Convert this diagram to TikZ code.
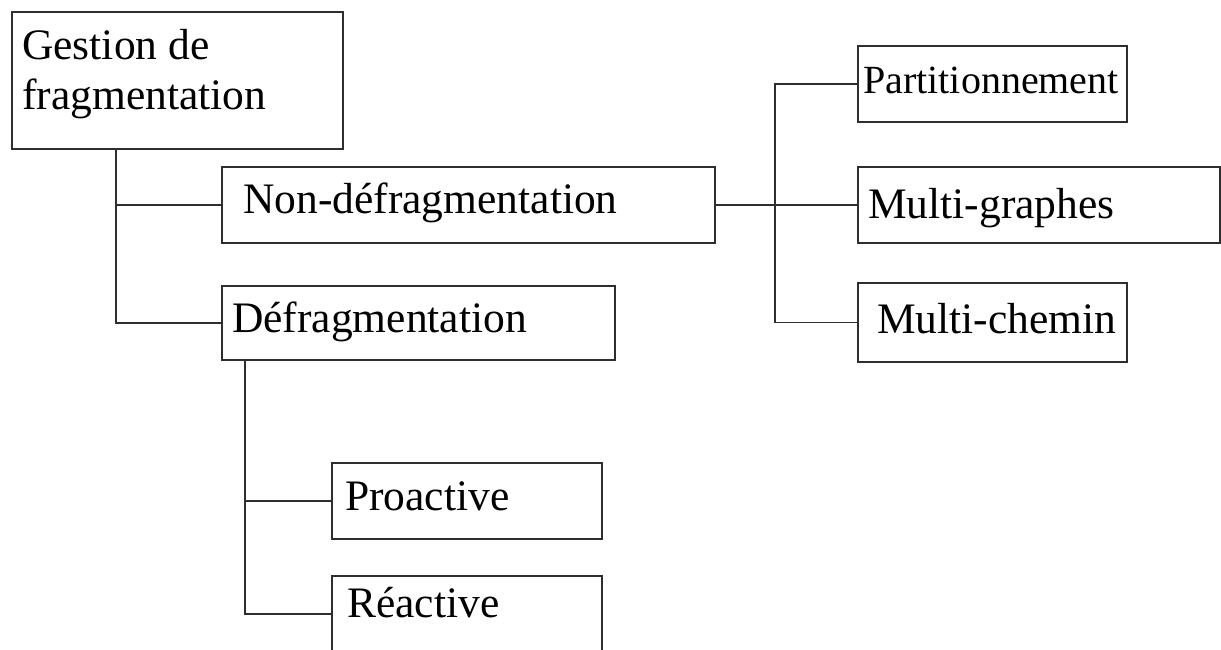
\documentclass[tikz,border=0pt]{standalone}
\usepackage{fontspec}
\setmainfont{Liberation Serif}
\begin{document}
\begin{tikzpicture}[x=1pt,y=-1pt,
  box/.style={draw=black!82, line width=1.8pt, rectangle, inner sep=0pt, outer sep=0pt, anchor=north west},
  lbl/.style={anchor=base west, inner sep=0pt, font=\fontsize{43.5}{50}\selectfont},
  conn/.style={draw=black!82, line width=1.8pt}]
\useasboundingbox (0,0) rectangle (1221,650);
% boxes
\node[box, minimum width=331pt, minimum height=137pt] (G) at (12,12) {};
\node[box, minimum width=493pt, minimum height=76pt] (N) at (222,167) {};
\node[box, minimum width=393pt, minimum height=74pt] (D) at (222,286) {};
\node[box, minimum width=269pt, minimum height=76pt] (P) at (858,46) {};
\node[box, minimum width=362pt, minimum height=76pt] (MG) at (858,167) {};
\node[box, minimum width=269pt, minimum height=79pt] (MC) at (858,283) {};
\node[box, minimum width=270pt, minimum height=76pt] (PR) at (332,463) {};
\node[box, minimum width=270pt, minimum height=76pt] (RE) at (332,576) {};
% labels
\node[lbl] (tg1) at (22,60) {Gestion de};
\node[lbl] (tg2) at (22,110) {fragmentation};
\node[lbl] (tn) at (243,213) {Non-défragmentation};
\node[lbl] (td) at (232,332) {Défragmentation};
\node[lbl, font=\fontsize{40}{46}\selectfont] (tp) at (863,94) {Partitionnement};
\node[lbl] (tmg) at (868,218) {Multi-graphes};
\node[lbl] (tmc) at (877,333) {Multi-chemin};
\node[lbl] (tpr) at (345,510) {Proactive};
\node[lbl] (tre) at (347,617) {Réactive};
% connectors
\coordinate (gs) at ([xshift=104pt]G.south west);
\draw[conn] (gs) |- (N.west);
\draw[conn] (gs) |- (D.west);
\draw[conn] (N.east) -- (MG.west);
\coordinate (T) at (775,205);
\draw[conn] (P.west) -| (T) |- (MC.west);
\coordinate (ds) at ([xshift=23pt]D.south west);
\draw[conn] (ds) |- (PR.west);
\draw[conn] (ds) |- (RE.west);
\end{tikzpicture}
\end{document}
